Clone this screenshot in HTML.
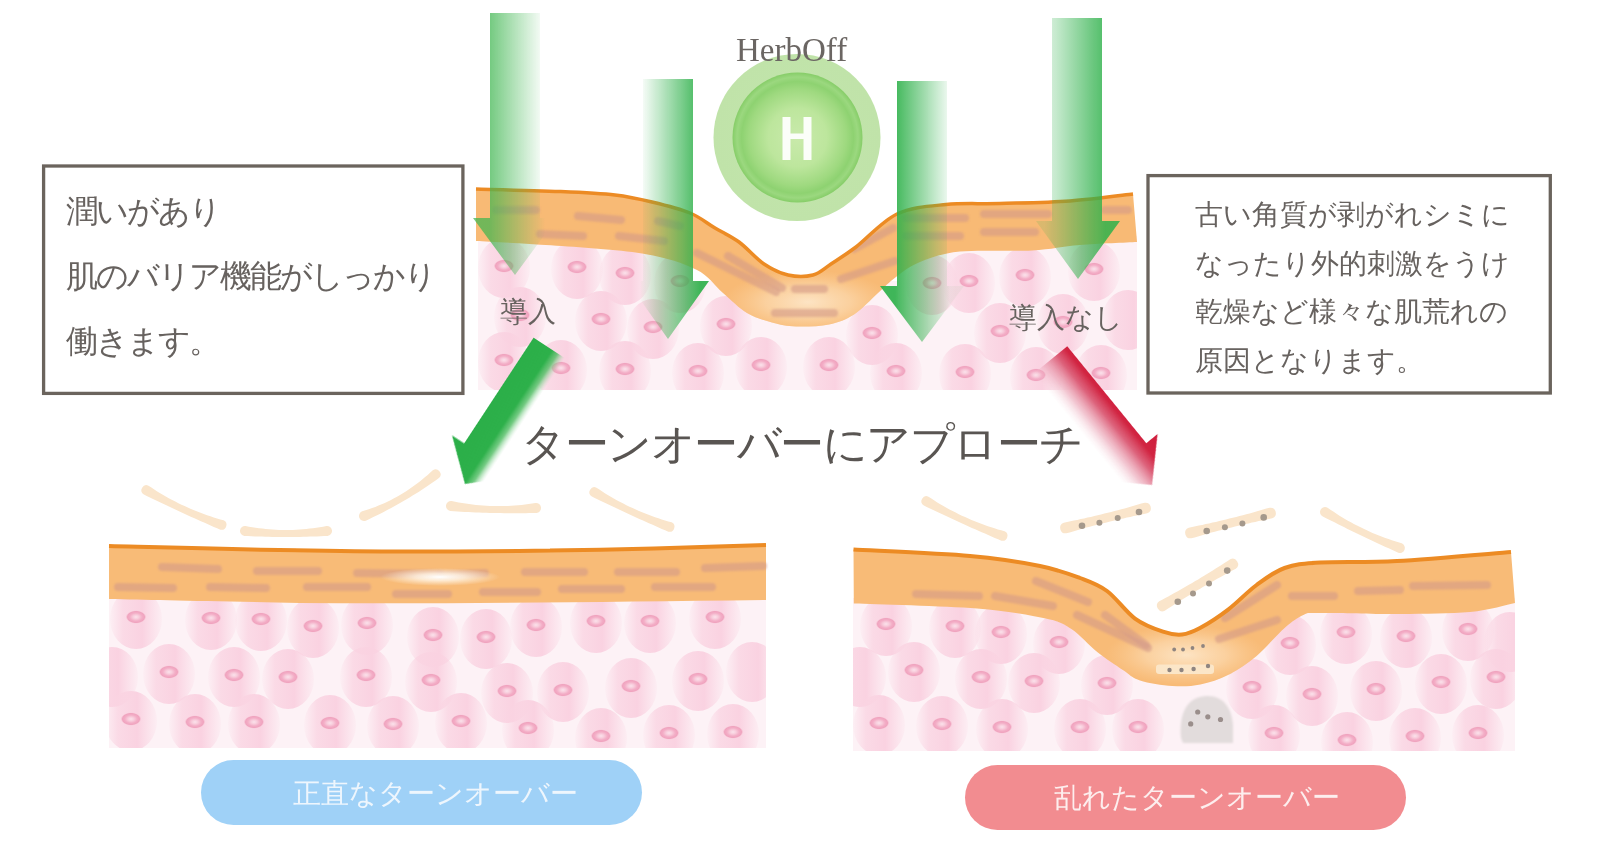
<!DOCTYPE html>
<html><head><meta charset="utf-8"><style>
html,body{margin:0;padding:0;background:#fff;}
body{width:1610px;height:855px;position:relative;overflow:hidden;font-family:"Liberation Sans",sans-serif;}
.t{position:absolute;white-space:nowrap;color:#67625f;line-height:1;}
</style></head><body>
<svg width="1610" height="855" viewBox="0 0 1610 855" style="position:absolute;left:0;top:0">

<defs>
 <linearGradient id="cellg" x1="0" y1="0" x2="1" y2="0">
  <stop offset="0" stop-color="#fad4e2" stop-opacity="0.1"/>
  <stop offset="0.25" stop-color="#fad4e2" stop-opacity="0.8"/>
  <stop offset="0.62" stop-color="#fad2e1" stop-opacity="1"/>
  <stop offset="1" stop-color="#fad4e2" stop-opacity="0.15"/>
 </linearGradient>
 <radialGradient id="nucg" cx="50%" cy="50%" r="50%">
  <stop offset="0" stop-color="#fbe2eb"/>
  <stop offset="0.3" stop-color="#f8cddc"/>
  <stop offset="0.62" stop-color="#f3adc6"/>
  <stop offset="0.85" stop-color="#f0a4bf"/>
  <stop offset="1" stop-color="#f5c0d2" stop-opacity="0.4"/>
 </radialGradient>
 <clipPath id="clipTSorange"><path d="M476,189 C560,191 615,194 652,202 C690,210 720,232 752,252 C775,268 790,276 802,276 C818,276 835,260 857,241 C878,224 900,210 946,205 C1000,203.5 1070,201 1133,194 L1137,242 C1080,245 1030,250 960,251 C925,256 895,282 862,305 C840,320 818,328 797,328 C772,328 750,318 728,299 C708,280 690,265 642,253 C600,247 540,243 476,241 Z"/></clipPath>
 <clipPath id="clipTS"><rect x="478" y="236" width="659" height="154"/></clipPath>
 <clipPath id="clipBL"><rect x="109" y="596" width="657" height="152"/></clipPath>
 <clipPath id="clipBR"><rect x="853" y="598" width="662" height="153"/></clipPath>
 <radialGradient id="cellgray" cx="50%" cy="50%" r="50%">
  <stop offset="0" stop-color="#d9d5d6"/>
  <stop offset="0.75" stop-color="#dcd8d9"/>
  <stop offset="1" stop-color="#e5e0e2" stop-opacity="0"/>
 </radialGradient>
 <radialGradient id="ballOuter" cx="50%" cy="50%" r="50%">
  <stop offset="0" stop-color="#c3e5ad"/>
  <stop offset="1" stop-color="#c0e3a9"/>
 </radialGradient>
 <radialGradient id="ballInner" cx="50%" cy="50%" r="50%">
  <stop offset="0" stop-color="#c9eaab"/>
  <stop offset="0.45" stop-color="#bde69d"/>
  <stop offset="0.75" stop-color="#9ed97f"/>
  <stop offset="0.86" stop-color="#8ed271"/>
  <stop offset="0.93" stop-color="#9bd87f"/>
  <stop offset="1" stop-color="#86cd68"/>
 </radialGradient>
 <linearGradient id="gA1" gradientUnits="userSpaceOnUse" x1="490" y1="0" x2="545" y2="0">
  <stop offset="0" stop-color="#3fb650" stop-opacity="0.72"/>
  <stop offset="1" stop-color="#3fb650" stop-opacity="0.0"/>
 </linearGradient>
 <linearGradient id="gA2" gradientUnits="userSpaceOnUse" x1="640" y1="0" x2="700" y2="0">
  <stop offset="0" stop-color="#2fb14b" stop-opacity="0"/>
  <stop offset="1" stop-color="#2fb14b" stop-opacity="0.92"/>
 </linearGradient>
 <linearGradient id="gA3" gradientUnits="userSpaceOnUse" x1="895" y1="0" x2="950" y2="0">
  <stop offset="0" stop-color="#2fb14b" stop-opacity="0.92"/>
  <stop offset="1" stop-color="#2fb14b" stop-opacity="0.05"/>
 </linearGradient>
 <linearGradient id="gA4" gradientUnits="userSpaceOnUse" x1="1045" y1="0" x2="1105" y2="0">
  <stop offset="0" stop-color="#2fb14b" stop-opacity="0.15"/>
  <stop offset="1" stop-color="#2fb14b" stop-opacity="0.85"/>
 </linearGradient>
 <linearGradient id="gGreen" gradientUnits="userSpaceOnUse" x1="-37.5" y1="0" x2="37.5" y2="0">
  <stop offset="0" stop-color="#2aae48"/>
  <stop offset="0.49" stop-color="#2db04a"/>
  <stop offset="0.58" stop-color="#4fbd62" stop-opacity="0.8"/>
  <stop offset="0.69" stop-color="#a8dfb0" stop-opacity="0"/>
 </linearGradient>
 <linearGradient id="gRed" gradientUnits="userSpaceOnUse" x1="36.5" y1="0" x2="-36.5" y2="0">
  <stop offset="0" stop-color="#cf1d3d"/>
  <stop offset="0.24" stop-color="#d12441"/>
  <stop offset="0.4" stop-color="#d9506c" stop-opacity="0.88"/>
  <stop offset="0.6" stop-color="#e68ea4" stop-opacity="0.5"/>
  <stop offset="0.8" stop-color="#f6d4dd" stop-opacity="0"/>
 </linearGradient>
 <radialGradient id="dipHi" cx="50%" cy="50%" r="50%">
  <stop offset="0" stop-color="#fde6c8" stop-opacity="0.95"/>
  <stop offset="0.5" stop-color="#fcdab0" stop-opacity="0.7"/>
  <stop offset="1" stop-color="#fbd09c" stop-opacity="0"/>
 </radialGradient>
 <radialGradient id="glow" cx="50%" cy="50%" r="50%">
  <stop offset="0" stop-color="#ffffff" stop-opacity="1"/>
  <stop offset="0.4" stop-color="#fff6e8" stop-opacity="0.8"/>
  <stop offset="1" stop-color="#fff6e8" stop-opacity="0"/>
 </radialGradient>
 <filter id="soft" filterUnits="userSpaceOnUse" x="0" y="0" width="1610" height="855"><feGaussianBlur stdDeviation="1.1"/></filter>
</defs>

<rect x="0" y="0" width="1610" height="855" fill="#ffffff"/>
<rect x="478" y="236" width="659" height="154" fill="#fdf2f6"/>
<g clip-path="url(#clipTS)">
<ellipse cx="504" cy="268" rx="26" ry="30" fill="url(#cellg)"/><ellipse cx="504" cy="266" rx="10" ry="6.5" fill="url(#nucg)"/>
<ellipse cx="577" cy="269" rx="26" ry="30" fill="url(#cellg)"/><ellipse cx="577" cy="267" rx="10" ry="6.5" fill="url(#nucg)"/>
<ellipse cx="625" cy="275" rx="26" ry="30" fill="url(#cellg)"/><ellipse cx="625" cy="273" rx="10" ry="6.5" fill="url(#nucg)"/>
<ellipse cx="680" cy="283" rx="26" ry="30" fill="url(#cellg)"/><ellipse cx="680" cy="281" rx="10" ry="6.5" fill="url(#nucg)"/>
<ellipse cx="932" cy="285" rx="26" ry="30" fill="url(#cellg)"/><ellipse cx="932" cy="283" rx="10" ry="6.5" fill="url(#nucg)"/>
<ellipse cx="969" cy="283" rx="26" ry="30" fill="url(#cellg)"/><ellipse cx="969" cy="281" rx="10" ry="6.5" fill="url(#nucg)"/>
<ellipse cx="1025" cy="277" rx="26" ry="30" fill="url(#cellg)"/><ellipse cx="1025" cy="275" rx="10" ry="6.5" fill="url(#nucg)"/>
<ellipse cx="1094" cy="271" rx="26" ry="30" fill="url(#cellg)"/><ellipse cx="1094" cy="269" rx="10" ry="6.5" fill="url(#nucg)"/>
<ellipse cx="601" cy="321" rx="26" ry="30" fill="url(#cellg)"/><ellipse cx="601" cy="319" rx="10" ry="6.5" fill="url(#nucg)"/>
<ellipse cx="653" cy="329" rx="26" ry="30" fill="url(#cellg)"/><ellipse cx="653" cy="327" rx="10" ry="6.5" fill="url(#nucg)"/>
<ellipse cx="726" cy="326" rx="26" ry="30" fill="url(#cellg)"/><ellipse cx="726" cy="324" rx="10" ry="6.5" fill="url(#nucg)"/>
<ellipse cx="872" cy="335" rx="26" ry="30" fill="url(#cellg)"/><ellipse cx="872" cy="333" rx="10" ry="6.5" fill="url(#nucg)"/>
<ellipse cx="1000" cy="333" rx="26" ry="30" fill="url(#cellg)"/><ellipse cx="1000" cy="331" rx="10" ry="6.5" fill="url(#nucg)"/>
<ellipse cx="1063" cy="324" rx="26" ry="30" fill="url(#cellg)"/><ellipse cx="1063" cy="322" rx="10" ry="6.5" fill="url(#nucg)"/>
<ellipse cx="1128" cy="320" rx="26" ry="30" fill="url(#cellg)"/>
<ellipse cx="520" cy="317" rx="26" ry="30" fill="url(#cellg)"/><ellipse cx="520" cy="315" rx="10" ry="6.5" fill="url(#nucg)"/>
<ellipse cx="504" cy="362" rx="26" ry="30" fill="url(#cellg)"/><ellipse cx="504" cy="360" rx="10" ry="6.5" fill="url(#nucg)"/>
<ellipse cx="561" cy="370" rx="26" ry="30" fill="url(#cellg)"/><ellipse cx="561" cy="368" rx="10" ry="6.5" fill="url(#nucg)"/>
<ellipse cx="625" cy="371" rx="26" ry="30" fill="url(#cellg)"/><ellipse cx="625" cy="369" rx="10" ry="6.5" fill="url(#nucg)"/>
<ellipse cx="698" cy="373" rx="26" ry="30" fill="url(#cellg)"/><ellipse cx="698" cy="371" rx="10" ry="6.5" fill="url(#nucg)"/>
<ellipse cx="761" cy="367" rx="26" ry="30" fill="url(#cellg)"/><ellipse cx="761" cy="365" rx="10" ry="6.5" fill="url(#nucg)"/>
<ellipse cx="829" cy="367" rx="26" ry="30" fill="url(#cellg)"/><ellipse cx="829" cy="365" rx="10" ry="6.5" fill="url(#nucg)"/>
<ellipse cx="896" cy="373" rx="26" ry="30" fill="url(#cellg)"/><ellipse cx="896" cy="371" rx="10" ry="6.5" fill="url(#nucg)"/>
<ellipse cx="965" cy="374" rx="26" ry="30" fill="url(#cellg)"/><ellipse cx="965" cy="372" rx="10" ry="6.5" fill="url(#nucg)"/>
<ellipse cx="1036" cy="377" rx="26" ry="30" fill="url(#cellg)"/><ellipse cx="1036" cy="375" rx="10" ry="6.5" fill="url(#nucg)"/>
<ellipse cx="1101" cy="375" rx="26" ry="30" fill="url(#cellg)"/><ellipse cx="1101" cy="373" rx="10" ry="6.5" fill="url(#nucg)"/>
</g>
<rect x="693" y="0" width="204" height="281" fill="#ffffff"/>
<clipPath id="clipTSo2"><path d="M476,189 C490.0,189.4 536.8,190.5 560,191.5 C583.2,192.5 599.7,193.2 615,195 C630.3,196.8 639.5,199.0 652,202 C664.5,205.0 679.5,208.7 690,213 C700.5,217.3 706.8,223.2 715,228 C723.2,232.8 730.8,236.0 739,242 C747.2,248.0 755.8,258.5 764,264 C772.2,269.5 779.8,273.2 788,275 C796.2,276.8 805.8,276.8 813,275 C820.2,273.2 823.8,268.7 831,264 C838.2,259.3 845.0,255.3 856,247 C867.0,238.7 882.0,221.1 897,214 C912.0,206.9 928.8,206.2 946,204.5 C963.2,202.8 979.3,204.1 1000,203.5 C1020.7,202.9 1047.8,202.6 1070,201 C1092.2,199.4 1122.5,195.2 1133,194 L1137,242 C1127.5,242.5 1097.5,243.6 1080,245 C1062.5,246.4 1052.0,249.4 1032,250.5 C1012.0,251.6 978.7,249.6 960,251.5 C941.3,253.4 930.7,257.8 920,262 C909.3,266.2 903.0,271.8 896,277 C889.0,282.2 885.0,286.8 878,293 C871.0,299.2 862.2,309.2 854,314.5 C845.8,319.8 838.7,322.5 829,324.5 C819.3,326.5 805.5,326.8 796,326.5 C786.5,326.2 780.2,324.8 772,322.5 C763.8,320.2 755.2,317.9 747,313 C738.8,308.1 731.5,300.2 723,293 C714.5,285.8 709.5,276.1 696,269.5 C682.5,262.9 666.2,257.5 642,253.5 C617.8,249.5 578.7,247.4 551,245.3 C523.3,243.2 488.5,241.7 476,241 Z"/></clipPath>
<path d="M476,189 C490.0,189.4 536.8,190.5 560,191.5 C583.2,192.5 599.7,193.2 615,195 C630.3,196.8 639.5,199.0 652,202 C664.5,205.0 679.5,208.7 690,213 C700.5,217.3 706.8,223.2 715,228 C723.2,232.8 730.8,236.0 739,242 C747.2,248.0 755.8,258.5 764,264 C772.2,269.5 779.8,273.2 788,275 C796.2,276.8 805.8,276.8 813,275 C820.2,273.2 823.8,268.7 831,264 C838.2,259.3 845.0,255.3 856,247 C867.0,238.7 882.0,221.1 897,214 C912.0,206.9 928.8,206.2 946,204.5 C963.2,202.8 979.3,204.1 1000,203.5 C1020.7,202.9 1047.8,202.6 1070,201 C1092.2,199.4 1122.5,195.2 1133,194 L1137,242 C1127.5,242.5 1097.5,243.6 1080,245 C1062.5,246.4 1052.0,249.4 1032,250.5 C1012.0,251.6 978.7,249.6 960,251.5 C941.3,253.4 930.7,257.8 920,262 C909.3,266.2 903.0,271.8 896,277 C889.0,282.2 885.0,286.8 878,293 C871.0,299.2 862.2,309.2 854,314.5 C845.8,319.8 838.7,322.5 829,324.5 C819.3,326.5 805.5,326.8 796,326.5 C786.5,326.2 780.2,324.8 772,322.5 C763.8,320.2 755.2,317.9 747,313 C738.8,308.1 731.5,300.2 723,293 C714.5,285.8 709.5,276.1 696,269.5 C682.5,262.9 666.2,257.5 642,253.5 C617.8,249.5 578.7,247.4 551,245.3 C523.3,243.2 488.5,241.7 476,241 Z" fill="#f8ba75"/>
<g clip-path="url(#clipTSo2)"><ellipse cx="808" cy="302" rx="85" ry="32" fill="url(#dipHi)"/>
<g filter="url(#soft)">
<line x1="496" y1="210" x2="536" y2="210" stroke="#d49a88" stroke-width="8" stroke-linecap="round" opacity="0.6"/>
<line x1="578" y1="216" x2="621" y2="220" stroke="#d49a88" stroke-width="8" stroke-linecap="round" opacity="0.6"/>
<line x1="540" y1="234" x2="583" y2="236" stroke="#d49a88" stroke-width="8" stroke-linecap="round" opacity="0.6"/>
<line x1="619" y1="236" x2="664" y2="241" stroke="#d49a88" stroke-width="8" stroke-linecap="round" opacity="0.6"/>
<line x1="658" y1="221" x2="680" y2="226" stroke="#d49a88" stroke-width="8" stroke-linecap="round" opacity="0.6"/>
<line x1="697" y1="253" x2="776" y2="292" stroke="#d49a88" stroke-width="8" stroke-linecap="round" opacity="0.6"/>
<line x1="728" y1="256" x2="782" y2="288" stroke="#d49a88" stroke-width="8" stroke-linecap="round" opacity="0.6"/>
<line x1="795" y1="289" x2="824" y2="289" stroke="#d49a88" stroke-width="8" stroke-linecap="round" opacity="0.6"/>
<line x1="775" y1="313" x2="834" y2="313" stroke="#d49a88" stroke-width="8" stroke-linecap="round" opacity="0.6"/>
<line x1="841" y1="279" x2="895" y2="261" stroke="#d49a88" stroke-width="8" stroke-linecap="round" opacity="0.6"/>
<line x1="854" y1="249" x2="893" y2="228" stroke="#d49a88" stroke-width="8" stroke-linecap="round" opacity="0.6"/>
<line x1="906" y1="218" x2="965" y2="218" stroke="#d49a88" stroke-width="8" stroke-linecap="round" opacity="0.6"/>
<line x1="906" y1="236" x2="960" y2="236" stroke="#d49a88" stroke-width="8" stroke-linecap="round" opacity="0.6"/>
<line x1="984" y1="214" x2="1048" y2="214" stroke="#d49a88" stroke-width="8" stroke-linecap="round" opacity="0.6"/>
<line x1="984" y1="232" x2="1035" y2="232" stroke="#d49a88" stroke-width="8" stroke-linecap="round" opacity="0.6"/>
<line x1="1105" y1="210" x2="1128" y2="210" stroke="#d49a88" stroke-width="8" stroke-linecap="round" opacity="0.6"/>
</g></g>
<path d="M476,189 C490.0,189.4 536.8,190.5 560,191.5 C583.2,192.5 599.7,193.2 615,195 C630.3,196.8 639.5,199.0 652,202 C664.5,205.0 679.5,208.7 690,213 C700.5,217.3 706.8,223.2 715,228 C723.2,232.8 730.8,236.0 739,242 C747.2,248.0 755.8,258.5 764,264 C772.2,269.5 779.8,273.2 788,275 C796.2,276.8 805.8,276.8 813,275 C820.2,273.2 823.8,268.7 831,264 C838.2,259.3 845.0,255.3 856,247 C867.0,238.7 882.0,221.1 897,214 C912.0,206.9 928.8,206.2 946,204.5 C963.2,202.8 979.3,204.1 1000,203.5 C1020.7,202.9 1047.8,202.6 1070,201 C1092.2,199.4 1122.5,195.2 1133,194" fill="none" stroke="#ec8b24" stroke-width="3.5"/>
<path d="M490,13 L540,13 L540,218 L557,218 L515,275 L473,218 L490,218 Z" fill="url(#gA1)"/>
<path d="M643,79 L693,79 L693,281 L709,281 L668,339 L627,281 L643,281 Z" fill="url(#gA2)"/>
<path d="M897,81 L947,81 L947,286 L964,286 L922,342 L880,286 L897,286 Z" fill="url(#gA3)"/>
<path d="M1052,18 L1102,18 L1102,221 L1120,221 L1078,279 L1036,221 L1052,221 Z" fill="url(#gA4)"/>
<circle cx="797" cy="137.5" r="83.5" fill="url(#ballOuter)"/>
<circle cx="797.5" cy="137.5" r="65" fill="url(#ballInner)"/>
<path d="M782.5,117 h8 v16.5 h13 v-16.5 h8 v43 h-8 v-21 h-13 v21 h-8 Z" fill="#ffffff" opacity="0.93"/>
<g transform="translate(465,484) rotate(33.29)"><path d="M0,0 L-37.5,-33.5 L-23,-33.5 L-23,-160 L23,-160 L23,-33.5 L37.5,-33.5 Z" fill="url(#gGreen)"/></g>
<g transform="translate(1152,485) rotate(-39.20)"><path d="M0,0 L-36.5,-36 L-22,-36 L-22,-161 L22,-161 L22,-36 L36.5,-36 Z" fill="url(#gRed)"/></g>
<rect x="109" y="596" width="657" height="152" fill="#fdf2f6"/>
<g clip-path="url(#clipBL)">
<ellipse cx="136" cy="619" rx="26" ry="30" fill="url(#cellg)"/><ellipse cx="136" cy="617" rx="10" ry="6.5" fill="url(#nucg)"/>
<ellipse cx="211" cy="620" rx="26" ry="30" fill="url(#cellg)"/><ellipse cx="211" cy="618" rx="10" ry="6.5" fill="url(#nucg)"/>
<ellipse cx="261" cy="621" rx="26" ry="30" fill="url(#cellg)"/><ellipse cx="261" cy="619" rx="10" ry="6.5" fill="url(#nucg)"/>
<ellipse cx="313" cy="628" rx="26" ry="30" fill="url(#cellg)"/><ellipse cx="313" cy="626" rx="10" ry="6.5" fill="url(#nucg)"/>
<ellipse cx="367" cy="625" rx="26" ry="30" fill="url(#cellg)"/><ellipse cx="367" cy="623" rx="10" ry="6.5" fill="url(#nucg)"/>
<ellipse cx="433" cy="637" rx="26" ry="30" fill="url(#cellg)"/><ellipse cx="433" cy="635" rx="10" ry="6.5" fill="url(#nucg)"/>
<ellipse cx="486" cy="639" rx="26" ry="30" fill="url(#cellg)"/><ellipse cx="486" cy="637" rx="10" ry="6.5" fill="url(#nucg)"/>
<ellipse cx="536" cy="627" rx="26" ry="30" fill="url(#cellg)"/><ellipse cx="536" cy="625" rx="10" ry="6.5" fill="url(#nucg)"/>
<ellipse cx="596" cy="623" rx="26" ry="30" fill="url(#cellg)"/><ellipse cx="596" cy="621" rx="10" ry="6.5" fill="url(#nucg)"/>
<ellipse cx="650" cy="623" rx="26" ry="30" fill="url(#cellg)"/><ellipse cx="650" cy="621" rx="10" ry="6.5" fill="url(#nucg)"/>
<ellipse cx="715" cy="619" rx="26" ry="30" fill="url(#cellg)"/><ellipse cx="715" cy="617" rx="10" ry="6.5" fill="url(#nucg)"/>
<ellipse cx="112" cy="677" rx="26" ry="30" fill="url(#cellg)"/>
<ellipse cx="169" cy="674" rx="26" ry="30" fill="url(#cellg)"/><ellipse cx="169" cy="672" rx="10" ry="6.5" fill="url(#nucg)"/>
<ellipse cx="234" cy="677" rx="26" ry="30" fill="url(#cellg)"/><ellipse cx="234" cy="675" rx="10" ry="6.5" fill="url(#nucg)"/>
<ellipse cx="288" cy="679" rx="26" ry="30" fill="url(#cellg)"/><ellipse cx="288" cy="677" rx="10" ry="6.5" fill="url(#nucg)"/>
<ellipse cx="366" cy="677" rx="26" ry="30" fill="url(#cellg)"/><ellipse cx="366" cy="675" rx="10" ry="6.5" fill="url(#nucg)"/>
<ellipse cx="431" cy="682" rx="26" ry="30" fill="url(#cellg)"/><ellipse cx="431" cy="680" rx="10" ry="6.5" fill="url(#nucg)"/>
<ellipse cx="507" cy="693" rx="26" ry="30" fill="url(#cellg)"/><ellipse cx="507" cy="691" rx="10" ry="6.5" fill="url(#nucg)"/>
<ellipse cx="563" cy="692" rx="26" ry="30" fill="url(#cellg)"/><ellipse cx="563" cy="690" rx="10" ry="6.5" fill="url(#nucg)"/>
<ellipse cx="631" cy="688" rx="26" ry="30" fill="url(#cellg)"/><ellipse cx="631" cy="686" rx="10" ry="6.5" fill="url(#nucg)"/>
<ellipse cx="698" cy="681" rx="26" ry="30" fill="url(#cellg)"/><ellipse cx="698" cy="679" rx="10" ry="6.5" fill="url(#nucg)"/>
<ellipse cx="752" cy="672" rx="26" ry="30" fill="url(#cellg)"/>
<ellipse cx="131" cy="721" rx="26" ry="30" fill="url(#cellg)"/><ellipse cx="131" cy="719" rx="10" ry="6.5" fill="url(#nucg)"/>
<ellipse cx="195" cy="724" rx="26" ry="30" fill="url(#cellg)"/><ellipse cx="195" cy="722" rx="10" ry="6.5" fill="url(#nucg)"/>
<ellipse cx="254" cy="724" rx="26" ry="30" fill="url(#cellg)"/><ellipse cx="254" cy="722" rx="10" ry="6.5" fill="url(#nucg)"/>
<ellipse cx="330" cy="725" rx="26" ry="30" fill="url(#cellg)"/><ellipse cx="330" cy="723" rx="10" ry="6.5" fill="url(#nucg)"/>
<ellipse cx="393" cy="726" rx="26" ry="30" fill="url(#cellg)"/><ellipse cx="393" cy="724" rx="10" ry="6.5" fill="url(#nucg)"/>
<ellipse cx="461" cy="723" rx="26" ry="30" fill="url(#cellg)"/><ellipse cx="461" cy="721" rx="10" ry="6.5" fill="url(#nucg)"/>
<ellipse cx="528" cy="730" rx="26" ry="30" fill="url(#cellg)"/><ellipse cx="528" cy="728" rx="10" ry="6.5" fill="url(#nucg)"/>
<ellipse cx="601" cy="738" rx="26" ry="30" fill="url(#cellg)"/><ellipse cx="601" cy="736" rx="10" ry="6.5" fill="url(#nucg)"/>
<ellipse cx="669" cy="735" rx="26" ry="30" fill="url(#cellg)"/><ellipse cx="669" cy="733" rx="10" ry="6.5" fill="url(#nucg)"/>
<ellipse cx="733" cy="734" rx="26" ry="30" fill="url(#cellg)"/><ellipse cx="733" cy="732" rx="10" ry="6.5" fill="url(#nucg)"/>
</g>
<path d="M109,546 C300,551 450,556 766,545 L766,600 C600,602 450,604 300,603 C200,601 150,600 109,599 Z" fill="#f8bb77"/>
<g filter="url(#soft)">
<line x1="162" y1="567" x2="218" y2="569" stroke="#d49a88" stroke-width="8" stroke-linecap="round" opacity="0.6"/>
<line x1="257" y1="571" x2="318" y2="571" stroke="#d49a88" stroke-width="8" stroke-linecap="round" opacity="0.6"/>
<line x1="357" y1="573" x2="440" y2="574" stroke="#d49a88" stroke-width="8" stroke-linecap="round" opacity="0.6"/>
<line x1="440" y1="575" x2="485" y2="573" stroke="#d49a88" stroke-width="8" stroke-linecap="round" opacity="0.6"/>
<line x1="525" y1="572" x2="584" y2="572" stroke="#d49a88" stroke-width="8" stroke-linecap="round" opacity="0.6"/>
<line x1="618" y1="572" x2="676" y2="572" stroke="#d49a88" stroke-width="8" stroke-linecap="round" opacity="0.6"/>
<line x1="705" y1="568" x2="763" y2="566" stroke="#d49a88" stroke-width="8" stroke-linecap="round" opacity="0.6"/>
<line x1="118" y1="587" x2="173" y2="588" stroke="#d49a88" stroke-width="8" stroke-linecap="round" opacity="0.6"/>
<line x1="210" y1="587" x2="266" y2="588" stroke="#d49a88" stroke-width="8" stroke-linecap="round" opacity="0.6"/>
<line x1="307" y1="587" x2="367" y2="587" stroke="#d49a88" stroke-width="8" stroke-linecap="round" opacity="0.6"/>
<line x1="396" y1="594" x2="448" y2="594" stroke="#d49a88" stroke-width="8" stroke-linecap="round" opacity="0.6"/>
<line x1="483" y1="592" x2="537" y2="592" stroke="#d49a88" stroke-width="8" stroke-linecap="round" opacity="0.6"/>
<line x1="562" y1="589" x2="621" y2="589" stroke="#d49a88" stroke-width="8" stroke-linecap="round" opacity="0.6"/>
<line x1="655" y1="587" x2="712" y2="587" stroke="#d49a88" stroke-width="8" stroke-linecap="round" opacity="0.6"/>
</g>
<ellipse cx="440" cy="577" rx="60" ry="9" fill="url(#glow)"/>
<path d="M109,546 C300,551 450,556 766,545" fill="none" stroke="#ec8b24" stroke-width="4"/>
<path d="M143.5,494.3 L146.7,495.9 L149.9,497.4 L153.0,499.0 L156.2,500.5 L159.4,502.0 L162.6,503.6 L165.8,505.1 L169.0,506.6 L172.1,508.1 L175.3,509.5 L178.5,511.0 L181.7,512.5 L184.9,514.0 L188.1,515.4 L191.3,516.9 L194.5,518.3 L197.7,519.8 L200.9,521.2 L204.1,522.6 L207.4,524.1 L210.6,525.5 L213.8,526.9 L217.1,528.3 L220.4,529.7 A5,5 0 0 0 223.6,520.3 L223.6,520.3 L220.3,519.4 L217.0,518.4 L213.7,517.4 L210.4,516.3 L207.1,515.2 L203.8,514.0 L200.6,512.8 L197.3,511.6 L194.1,510.3 L191.0,508.9 L187.8,507.6 L184.6,506.1 L181.5,504.7 L178.4,503.2 L175.3,501.6 L172.2,500.0 L169.2,498.4 L166.2,496.7 L163.2,494.9 L160.2,493.2 L157.2,491.4 L154.3,489.5 L151.4,487.6 L148.5,485.7 A5,5 0 0 0 143.5,494.3 Z" fill="#fae5cb"/>
<path d="M244.4,536.0 L247.9,536.1 L251.4,536.3 L254.9,536.4 L258.3,536.5 L261.8,536.6 L265.3,536.7 L268.7,536.8 L272.2,536.9 L275.6,536.9 L279.1,537.0 L282.5,537.0 L286.0,537.0 L289.5,537.0 L292.9,537.0 L296.4,536.9 L299.8,536.9 L303.3,536.8 L306.7,536.7 L310.2,536.6 L313.7,536.5 L317.1,536.4 L320.6,536.3 L324.1,536.1 L327.6,536.0 A5,5 0 0 0 326.4,526.0 L326.4,526.0 L323.1,526.7 L319.7,527.2 L316.4,527.8 L313.0,528.2 L309.6,528.6 L306.3,529.0 L302.9,529.3 L299.5,529.6 L296.1,529.8 L292.8,529.9 L289.4,530.0 L286.0,530.0 L282.6,530.0 L279.2,529.9 L275.9,529.8 L272.5,529.6 L269.1,529.3 L265.7,529.0 L262.4,528.6 L259.0,528.2 L255.6,527.8 L252.3,527.2 L248.9,526.7 L245.6,526.0 A5,5 0 0 0 244.4,536.0 Z" fill="#fae5cb"/>
<path d="M365.8,520.7 L369.0,519.2 L372.3,517.6 L375.5,516.1 L378.7,514.5 L381.8,512.9 L385.0,511.3 L388.1,509.6 L391.2,508.0 L394.3,506.3 L397.4,504.5 L400.5,502.8 L403.5,501.0 L406.6,499.3 L409.6,497.4 L412.6,495.6 L415.6,493.7 L418.6,491.9 L421.5,489.9 L424.5,488.0 L427.5,486.0 L430.4,484.0 L433.3,482.0 L436.3,479.9 L439.2,477.8 A5,5 0 0 0 432.8,470.2 L432.8,470.2 L430.3,472.5 L427.7,474.9 L425.1,477.1 L422.5,479.3 L419.8,481.5 L417.1,483.6 L414.3,485.6 L411.5,487.6 L408.7,489.6 L405.8,491.4 L402.9,493.2 L400.0,495.0 L397.0,496.7 L394.0,498.3 L391.0,499.9 L387.9,501.4 L384.8,502.9 L381.7,504.3 L378.5,505.6 L375.3,506.9 L372.1,508.1 L368.8,509.2 L365.5,510.3 L362.2,511.3 A5,5 0 0 0 365.8,520.7 Z" fill="#fae5cb"/>
<path d="M450.3,511.0 L453.9,511.2 L457.5,511.4 L461.1,511.7 L464.7,511.9 L468.3,512.1 L471.9,512.2 L475.5,512.4 L479.1,512.5 L482.6,512.7 L486.2,512.8 L489.8,512.9 L493.4,513.0 L496.9,513.1 L500.5,513.1 L504.1,513.2 L507.7,513.2 L511.3,513.2 L514.8,513.2 L518.4,513.2 L522.0,513.2 L525.6,513.2 L529.2,513.1 L532.8,513.1 L536.5,513.0 A5,5 0 0 0 535.5,503.0 L535.5,503.0 L532.1,503.6 L528.6,504.1 L525.1,504.5 L521.6,504.9 L518.1,505.2 L514.6,505.5 L511.1,505.7 L507.6,505.9 L504.0,506.0 L500.5,506.1 L497.0,506.1 L493.5,506.0 L490.0,505.9 L486.5,505.7 L483.0,505.5 L479.5,505.2 L476.0,504.9 L472.5,504.5 L469.0,504.1 L465.6,503.6 L462.1,503.0 L458.6,502.4 L455.2,501.8 L451.7,501.0 A5,5 0 0 0 450.3,511.0 Z" fill="#fae5cb"/>
<path d="M591.5,496.3 L594.7,497.9 L597.9,499.4 L601.0,501.0 L604.2,502.5 L607.4,504.0 L610.6,505.6 L613.8,507.1 L617.0,508.6 L620.1,510.1 L623.3,511.5 L626.5,513.0 L629.7,514.5 L632.9,516.0 L636.1,517.4 L639.3,518.9 L642.5,520.3 L645.7,521.8 L648.9,523.2 L652.1,524.6 L655.4,526.1 L658.6,527.5 L661.8,528.9 L665.1,530.3 L668.4,531.7 A5,5 0 0 0 671.6,522.3 L671.6,522.3 L668.3,521.4 L665.0,520.4 L661.7,519.4 L658.4,518.3 L655.1,517.2 L651.8,516.0 L648.6,514.8 L645.3,513.6 L642.1,512.3 L639.0,510.9 L635.8,509.6 L632.6,508.1 L629.5,506.7 L626.4,505.2 L623.3,503.6 L620.2,502.0 L617.2,500.4 L614.2,498.7 L611.2,496.9 L608.2,495.2 L605.2,493.4 L602.3,491.5 L599.4,489.6 L596.5,487.7 A5,5 0 0 0 591.5,496.3 Z" fill="#fae5cb"/>
<rect x="853" y="598" width="662" height="153" fill="#fdf2f6"/>
<g clip-path="url(#clipBR)">
<ellipse cx="886" cy="626" rx="26" ry="30" fill="url(#cellg)"/><ellipse cx="886" cy="624" rx="10" ry="6.5" fill="url(#nucg)"/>
<ellipse cx="955" cy="628" rx="26" ry="30" fill="url(#cellg)"/><ellipse cx="955" cy="626" rx="10" ry="6.5" fill="url(#nucg)"/>
<ellipse cx="1001" cy="634" rx="26" ry="30" fill="url(#cellg)"/><ellipse cx="1001" cy="632" rx="10" ry="6.5" fill="url(#nucg)"/>
<ellipse cx="1059" cy="644" rx="26" ry="30" fill="url(#cellg)"/><ellipse cx="1059" cy="642" rx="10" ry="6.5" fill="url(#nucg)"/>
<ellipse cx="1290" cy="645" rx="26" ry="30" fill="url(#cellg)"/><ellipse cx="1290" cy="643" rx="10" ry="6.5" fill="url(#nucg)"/>
<ellipse cx="1346" cy="634" rx="26" ry="30" fill="url(#cellg)"/><ellipse cx="1346" cy="632" rx="10" ry="6.5" fill="url(#nucg)"/>
<ellipse cx="1406" cy="638" rx="26" ry="30" fill="url(#cellg)"/><ellipse cx="1406" cy="636" rx="10" ry="6.5" fill="url(#nucg)"/>
<ellipse cx="1468" cy="631" rx="26" ry="30" fill="url(#cellg)"/><ellipse cx="1468" cy="629" rx="10" ry="6.5" fill="url(#nucg)"/>
<ellipse cx="1510" cy="642" rx="26" ry="30" fill="url(#cellg)"/>
<ellipse cx="860" cy="677" rx="26" ry="30" fill="url(#cellg)"/>
<ellipse cx="914" cy="672" rx="26" ry="30" fill="url(#cellg)"/><ellipse cx="914" cy="670" rx="10" ry="6.5" fill="url(#nucg)"/>
<ellipse cx="981" cy="679" rx="26" ry="30" fill="url(#cellg)"/><ellipse cx="981" cy="677" rx="10" ry="6.5" fill="url(#nucg)"/>
<ellipse cx="1034" cy="683" rx="26" ry="30" fill="url(#cellg)"/><ellipse cx="1034" cy="681" rx="10" ry="6.5" fill="url(#nucg)"/>
<ellipse cx="1107" cy="685" rx="26" ry="30" fill="url(#cellg)"/><ellipse cx="1107" cy="683" rx="10" ry="6.5" fill="url(#nucg)"/>
<ellipse cx="1252" cy="689" rx="26" ry="30" fill="url(#cellg)"/><ellipse cx="1252" cy="687" rx="10" ry="6.5" fill="url(#nucg)"/>
<ellipse cx="1312" cy="696" rx="26" ry="30" fill="url(#cellg)"/><ellipse cx="1312" cy="694" rx="10" ry="6.5" fill="url(#nucg)"/>
<ellipse cx="1376" cy="691" rx="26" ry="30" fill="url(#cellg)"/><ellipse cx="1376" cy="689" rx="10" ry="6.5" fill="url(#nucg)"/>
<ellipse cx="1441" cy="684" rx="26" ry="30" fill="url(#cellg)"/><ellipse cx="1441" cy="682" rx="10" ry="6.5" fill="url(#nucg)"/>
<ellipse cx="1496" cy="679" rx="26" ry="30" fill="url(#cellg)"/><ellipse cx="1496" cy="677" rx="10" ry="6.5" fill="url(#nucg)"/>
<ellipse cx="879" cy="725" rx="26" ry="30" fill="url(#cellg)"/><ellipse cx="879" cy="723" rx="10" ry="6.5" fill="url(#nucg)"/>
<ellipse cx="942" cy="726" rx="26" ry="30" fill="url(#cellg)"/><ellipse cx="942" cy="724" rx="10" ry="6.5" fill="url(#nucg)"/>
<ellipse cx="1002" cy="729" rx="26" ry="30" fill="url(#cellg)"/><ellipse cx="1002" cy="727" rx="10" ry="6.5" fill="url(#nucg)"/>
<ellipse cx="1080" cy="729" rx="26" ry="30" fill="url(#cellg)"/><ellipse cx="1080" cy="727" rx="10" ry="6.5" fill="url(#nucg)"/>
<ellipse cx="1138" cy="729" rx="26" ry="30" fill="url(#cellg)"/><ellipse cx="1138" cy="727" rx="10" ry="6.5" fill="url(#nucg)"/>
<ellipse cx="1274" cy="735" rx="26" ry="30" fill="url(#cellg)"/><ellipse cx="1274" cy="733" rx="10" ry="6.5" fill="url(#nucg)"/>
<ellipse cx="1347" cy="742" rx="26" ry="30" fill="url(#cellg)"/><ellipse cx="1347" cy="740" rx="10" ry="6.5" fill="url(#nucg)"/>
<ellipse cx="1415" cy="738" rx="26" ry="30" fill="url(#cellg)"/><ellipse cx="1415" cy="736" rx="10" ry="6.5" fill="url(#nucg)"/>
<ellipse cx="1478" cy="735" rx="26" ry="30" fill="url(#cellg)"/><ellipse cx="1478" cy="733" rx="10" ry="6.5" fill="url(#nucg)"/>
</g>
<path d="M1181,738 C1179,715 1186,697 1206,696 C1223,695 1232,708 1233,725 L1233,743 L1183,743 Z" fill="#e2dcdc" filter="url(#soft)"/>
<circle cx="1197.7" cy="712" r="2.6" fill="#9a8e8b"/>
<circle cx="1207.8" cy="716.8" r="2.6" fill="#9a8e8b"/>
<circle cx="1220.5" cy="719.5" r="2.6" fill="#9a8e8b"/>
<circle cx="1190.7" cy="723.9" r="2.6" fill="#9a8e8b"/>
<path d="M853.5,549.6 C872.9,550.7 938.9,553.3 970,556 C1001.1,558.7 1021.7,562.3 1040,566 C1058.3,569.7 1068.8,573.8 1080,578 C1091.2,582.2 1097.8,584.2 1107,591 C1116.2,597.8 1125.7,611.8 1135,618.6 C1144.3,625.4 1155.2,629.1 1163,631.7 C1170.8,634.4 1175.8,635.1 1182,634.5 C1188.2,633.9 1192.2,632.2 1200,628 C1207.8,623.8 1219.1,616.5 1228.5,609.3 C1237.9,602.1 1247.2,591.9 1256.6,585 C1265.9,578.1 1274.0,571.8 1284.6,568 C1295.2,564.2 1301.3,563.7 1320,562.5 C1338.7,561.3 1365.2,562.8 1397,561 C1428.8,559.2 1492.0,553.5 1511,552 L1511,540 L853,540 Z" fill="#ffffff"/>
<path d="M853.5,549.6 C872.9,550.7 938.9,553.3 970,556 C1001.1,558.7 1021.7,562.3 1040,566 C1058.3,569.7 1068.8,573.8 1080,578 C1091.2,582.2 1097.8,584.2 1107,591 C1116.2,597.8 1125.7,611.8 1135,618.6 C1144.3,625.4 1155.2,629.1 1163,631.7 C1170.8,634.4 1175.8,635.1 1182,634.5 C1188.2,633.9 1192.2,632.2 1200,628 C1207.8,623.8 1219.1,616.5 1228.5,609.3 C1237.9,602.1 1247.2,591.9 1256.6,585 C1265.9,578.1 1274.0,571.8 1284.6,568 C1295.2,564.2 1301.3,563.7 1320,562.5 C1338.7,561.3 1365.2,562.8 1397,561 C1428.8,559.2 1492.0,553.5 1511,552 L1515,603 C1507.5,604.5 1489.2,610.2 1470,612 C1450.8,613.8 1425.0,613.8 1400,614 C1375.0,614.2 1336.1,612.8 1320,613 C1303.9,613.2 1309.3,612.5 1303.4,615 C1297.5,617.5 1292.4,621.2 1284.6,628 C1276.8,634.8 1265.9,648.2 1256.6,656 C1247.2,663.8 1237.9,670.0 1228.5,674.8 C1219.1,679.5 1209.8,682.6 1200.4,684.5 C1191.0,686.4 1182.4,686.7 1172.3,686 C1162.2,685.3 1148.2,683.2 1140,680.5 C1131.8,677.8 1130.0,674.8 1122.9,670 C1115.8,665.2 1105.8,658.8 1097.2,652 C1088.6,645.2 1080.0,634.6 1071.4,629 C1062.8,623.4 1061.4,622.0 1045.7,618.6 C1030.0,615.2 1009.0,611.0 977,608.5 C945.0,606.0 874.3,604.3 853.8,603.5 Z" fill="#f8bb77"/>
<clipPath id="clipBRorange"><path d="M853.5,549.6 C872.9,550.7 938.9,553.3 970,556 C1001.1,558.7 1021.7,562.3 1040,566 C1058.3,569.7 1068.8,573.8 1080,578 C1091.2,582.2 1097.8,584.2 1107,591 C1116.2,597.8 1125.7,611.8 1135,618.6 C1144.3,625.4 1155.2,629.1 1163,631.7 C1170.8,634.4 1175.8,635.1 1182,634.5 C1188.2,633.9 1192.2,632.2 1200,628 C1207.8,623.8 1219.1,616.5 1228.5,609.3 C1237.9,602.1 1247.2,591.9 1256.6,585 C1265.9,578.1 1274.0,571.8 1284.6,568 C1295.2,564.2 1301.3,563.7 1320,562.5 C1338.7,561.3 1365.2,562.8 1397,561 C1428.8,559.2 1492.0,553.5 1511,552 L1515,603 C1507.5,604.5 1489.2,610.2 1470,612 C1450.8,613.8 1425.0,613.8 1400,614 C1375.0,614.2 1336.1,612.8 1320,613 C1303.9,613.2 1309.3,612.5 1303.4,615 C1297.5,617.5 1292.4,621.2 1284.6,628 C1276.8,634.8 1265.9,648.2 1256.6,656 C1247.2,663.8 1237.9,670.0 1228.5,674.8 C1219.1,679.5 1209.8,682.6 1200.4,684.5 C1191.0,686.4 1182.4,686.7 1172.3,686 C1162.2,685.3 1148.2,683.2 1140,680.5 C1131.8,677.8 1130.0,674.8 1122.9,670 C1115.8,665.2 1105.8,658.8 1097.2,652 C1088.6,645.2 1080.0,634.6 1071.4,629 C1062.8,623.4 1061.4,622.0 1045.7,618.6 C1030.0,615.2 1009.0,611.0 977,608.5 C945.0,606.0 874.3,604.3 853.8,603.5 Z"/></clipPath>
<g clip-path="url(#clipBRorange)"><ellipse cx="1186" cy="655" rx="80" ry="30" fill="url(#dipHi)"/>
<g filter="url(#soft)">
<line x1="916" y1="594" x2="979" y2="596" stroke="#d49a88" stroke-width="8" stroke-linecap="round" opacity="0.6"/>
<line x1="995" y1="596" x2="1053" y2="606" stroke="#d49a88" stroke-width="8" stroke-linecap="round" opacity="0.6"/>
<line x1="1036" y1="581" x2="1088" y2="602" stroke="#d49a88" stroke-width="8" stroke-linecap="round" opacity="0.6"/>
<line x1="1077" y1="615" x2="1148" y2="648" stroke="#d49a88" stroke-width="8" stroke-linecap="round" opacity="0.6"/>
<line x1="1105" y1="615" x2="1146" y2="645" stroke="#d49a88" stroke-width="8" stroke-linecap="round" opacity="0.6"/>
<line x1="1219" y1="639" x2="1277" y2="620" stroke="#d49a88" stroke-width="8" stroke-linecap="round" opacity="0.6"/>
<line x1="1225" y1="618" x2="1277" y2="585" stroke="#d49a88" stroke-width="8" stroke-linecap="round" opacity="0.6"/>
<line x1="1292" y1="596" x2="1334" y2="596" stroke="#d49a88" stroke-width="8" stroke-linecap="round" opacity="0.6"/>
<line x1="1358" y1="591" x2="1400" y2="590" stroke="#d49a88" stroke-width="8" stroke-linecap="round" opacity="0.6"/>
<line x1="1413" y1="586" x2="1487" y2="585" stroke="#d49a88" stroke-width="8" stroke-linecap="round" opacity="0.6"/>
</g></g>
<rect x="1156" y="664.5" width="58" height="9.5" rx="3" fill="#fbe6c8"/>
<circle cx="1169.5" cy="670" r="2.2" fill="#8f8580"/>
<circle cx="1181.5" cy="670" r="2.2" fill="#8f8580"/>
<circle cx="1193.6" cy="669" r="2.2" fill="#8f8580"/>
<circle cx="1208" cy="666" r="2.2" fill="#8f8580"/>
<circle cx="1174.2" cy="649.5" r="1.9" fill="#8f8580"/>
<circle cx="1183" cy="649.5" r="1.9" fill="#8f8580"/>
<circle cx="1192.5" cy="648" r="1.9" fill="#8f8580"/>
<circle cx="1203" cy="646" r="1.9" fill="#8f8580"/>
<path d="M853.5,549.6 C872.9,550.7 938.9,553.3 970,556 C1001.1,558.7 1021.7,562.3 1040,566 C1058.3,569.7 1068.8,573.8 1080,578 C1091.2,582.2 1097.8,584.2 1107,591 C1116.2,597.8 1125.7,611.8 1135,618.6 C1144.3,625.4 1155.2,629.1 1163,631.7 C1170.8,634.4 1175.8,635.1 1182,634.5 C1188.2,633.9 1192.2,632.2 1200,628 C1207.8,623.8 1219.1,616.5 1228.5,609.3 C1237.9,602.1 1247.2,591.9 1256.6,585 C1265.9,578.1 1274.0,571.8 1284.6,568 C1295.2,564.2 1301.3,563.7 1320,562.5 C1338.7,561.3 1365.2,562.8 1397,561 C1428.8,559.2 1492.0,553.5 1511,552" fill="none" stroke="#ec8b24" stroke-width="4"/>
<path d="M923.5,505.3 L926.7,506.9 L930.0,508.4 L933.2,510.0 L936.4,511.5 L939.6,513.0 L942.9,514.6 L946.1,516.1 L949.3,517.6 L952.5,519.1 L955.8,520.6 L959.0,522.0 L962.2,523.5 L965.5,525.0 L968.7,526.4 L971.9,527.9 L975.2,529.3 L978.4,530.8 L981.7,532.2 L985.0,533.6 L988.2,535.1 L991.5,536.5 L994.8,537.9 L998.1,539.3 L1001.4,540.7 A5,5 0 0 0 1004.6,531.3 L1004.6,531.3 L1001.2,530.3 L997.9,529.4 L994.5,528.3 L991.2,527.3 L987.9,526.2 L984.6,525.0 L981.3,523.8 L978.0,522.6 L974.8,521.3 L971.5,519.9 L968.3,518.6 L965.1,517.1 L961.9,515.7 L958.8,514.2 L955.7,512.6 L952.6,511.0 L949.5,509.4 L946.4,507.7 L943.4,505.9 L940.3,504.2 L937.3,502.4 L934.4,500.5 L931.4,498.6 L928.5,496.7 A5,5 0 0 0 923.5,505.3 Z" fill="#fae5cb"/>
<path d="M1322.4,516.3 L1325.6,517.9 L1328.7,519.5 L1331.8,521.1 L1335.0,522.6 L1338.1,524.2 L1341.3,525.8 L1344.4,527.3 L1347.5,528.9 L1350.7,530.4 L1353.8,531.9 L1357.0,533.4 L1360.1,535.0 L1363.3,536.5 L1366.4,538.0 L1369.6,539.5 L1372.8,541.0 L1375.9,542.4 L1379.1,543.9 L1382.3,545.4 L1385.5,546.9 L1388.7,548.3 L1391.9,549.8 L1395.1,551.2 L1398.3,552.7 A5,5 0 0 0 1401.7,543.3 L1401.7,543.3 L1398.4,542.3 L1395.1,541.3 L1391.8,540.2 L1388.6,539.1 L1385.3,538.0 L1382.1,536.8 L1378.9,535.5 L1375.7,534.2 L1372.5,532.9 L1369.4,531.5 L1366.3,530.1 L1363.1,528.6 L1360.1,527.1 L1357.0,525.6 L1353.9,524.0 L1350.9,522.3 L1347.9,520.7 L1344.9,518.9 L1342.0,517.2 L1339.1,515.4 L1336.2,513.5 L1333.3,511.6 L1330.4,509.7 L1327.6,507.7 A5,5 0 0 0 1322.4,516.3 Z" fill="#fae5cb"/>
<path d="M1066.3,533.3 L1069.7,532.4 L1073.0,531.4 L1076.3,530.4 L1079.7,529.5 L1083.0,528.5 L1086.4,527.6 L1089.7,526.7 L1093.1,525.8 L1096.5,524.9 L1099.8,524.1 L1103.2,523.2 L1106.6,522.4 L1110.0,521.5 L1113.3,520.7 L1116.7,519.9 L1120.1,519.1 L1123.5,518.4 L1126.9,517.6 L1130.3,516.9 L1133.7,516.1 L1137.1,515.4 L1140.5,514.7 L1143.9,514.0 L1147.3,513.3 A5.5,5.5 0 0 0 1144.7,502.7 L1144.7,502.7 L1141.3,503.6 L1138.0,504.6 L1134.7,505.6 L1131.3,506.5 L1128.0,507.5 L1124.6,508.4 L1121.3,509.3 L1117.9,510.2 L1114.5,511.1 L1111.2,511.9 L1107.8,512.8 L1104.4,513.6 L1101.0,514.5 L1097.7,515.3 L1094.3,516.1 L1090.9,516.9 L1087.5,517.6 L1084.1,518.4 L1080.7,519.1 L1077.3,519.9 L1073.9,520.6 L1070.5,521.3 L1067.1,522.0 L1063.7,522.7 A5.5,5.5 0 0 0 1066.3,533.3 Z" fill="#fae5cb"/>
<circle cx="1082" cy="525.7" r="3.3" fill="#a5998c"/>
<circle cx="1099.4" cy="522.7" r="3" fill="#a5998c"/>
<circle cx="1117.7" cy="518.1" r="3" fill="#a5998c"/>
<circle cx="1139" cy="512" r="3.3" fill="#a5998c"/>
<path d="M1191.3,538.3 L1194.7,537.4 L1198.0,536.4 L1201.3,535.4 L1204.7,534.5 L1208.0,533.5 L1211.4,532.6 L1214.7,531.7 L1218.1,530.8 L1221.5,529.9 L1224.8,529.1 L1228.2,528.2 L1231.6,527.4 L1235.0,526.5 L1238.3,525.7 L1241.7,524.9 L1245.1,524.1 L1248.5,523.4 L1251.9,522.6 L1255.3,521.9 L1258.7,521.1 L1262.1,520.4 L1265.5,519.7 L1268.9,519.0 L1272.3,518.3 A5.5,5.5 0 0 0 1269.7,507.7 L1269.7,507.7 L1266.3,508.6 L1263.0,509.6 L1259.7,510.6 L1256.3,511.5 L1253.0,512.5 L1249.6,513.4 L1246.3,514.3 L1242.9,515.2 L1239.5,516.1 L1236.2,516.9 L1232.8,517.8 L1229.4,518.6 L1226.0,519.5 L1222.7,520.3 L1219.3,521.1 L1215.9,521.9 L1212.5,522.6 L1209.1,523.4 L1205.7,524.1 L1202.3,524.9 L1198.9,525.6 L1195.5,526.3 L1192.1,527.0 L1188.7,527.7 A5.5,5.5 0 0 0 1191.3,538.3 Z" fill="#fae5cb"/>
<circle cx="1206.7" cy="531" r="3.3" fill="#a5998c"/>
<circle cx="1224.9" cy="527.3" r="3" fill="#a5998c"/>
<circle cx="1242.4" cy="523.5" r="3" fill="#a5998c"/>
<circle cx="1263.7" cy="517.4" r="3.3" fill="#a5998c"/>
<path d="M1164.8,610.7 L1167.7,608.8 L1170.6,607.0 L1173.5,605.1 L1176.4,603.3 L1179.3,601.4 L1182.2,599.6 L1185.1,597.8 L1188.0,596.0 L1190.9,594.2 L1193.9,592.4 L1196.8,590.6 L1199.8,588.9 L1202.8,587.1 L1205.7,585.4 L1208.7,583.7 L1211.7,582.0 L1214.7,580.3 L1217.7,578.6 L1220.7,576.9 L1223.7,575.3 L1226.7,573.6 L1229.7,572.0 L1232.8,570.3 L1235.8,568.7 A5.5,5.5 0 0 0 1230.2,559.3 L1230.2,559.3 L1227.3,561.2 L1224.4,563.0 L1221.5,564.9 L1218.6,566.7 L1215.7,568.6 L1212.8,570.4 L1209.9,572.2 L1207.0,574.0 L1204.1,575.8 L1201.1,577.6 L1198.2,579.4 L1195.2,581.1 L1192.2,582.9 L1189.3,584.6 L1186.3,586.3 L1183.3,588.0 L1180.3,589.7 L1177.3,591.4 L1174.3,593.1 L1171.3,594.7 L1168.3,596.4 L1165.3,598.0 L1162.2,599.7 L1159.2,601.3 A5.5,5.5 0 0 0 1164.8,610.7 Z" fill="#fae5cb"/>
<circle cx="1177.8" cy="601.8" r="3.3" fill="#a5998c"/>
<circle cx="1193" cy="593.4" r="3" fill="#a5998c"/>
<circle cx="1209" cy="583.5" r="3" fill="#a5998c"/>
<circle cx="1227.2" cy="570.6" r="3.3" fill="#a5998c"/>
<rect x="201" y="760" width="441" height="65" rx="32.5" fill="#9fd1f7"/>
<rect x="965" y="765" width="441" height="65" rx="32.5" fill="#f28c90"/>
<rect x="43.6" y="166" width="419.3" height="227.4" fill="none" stroke="#6b645d" stroke-width="3.3"/>
<rect x="1148" y="175.6" width="402.3" height="217.4" fill="none" stroke="#6b645d" stroke-width="3.3"/>
</svg>
<div class="t" style="left:736px;top:34px;font-family:'Liberation Serif',serif;font-size:33px;color:#6b6663;">HerbOff</div>
<div class="t" style="left:66px;top:179px;font-size:32px;line-height:65px;letter-spacing:-2px;">潤いがあり<br>肌のバリア機能がしっかり<br>働きます。</div>
<div class="t" style="left:1195px;top:191px;font-size:27.5px;line-height:48.5px;">古い角質が剥がれシミに<br>なったり外的刺激をうけ<br>乾燥など様々な肌荒れの<br>原因となります。</div>
<div class="t" style="left:500px;top:298px;font-size:28px;">導入</div>
<div class="t" style="left:1009px;top:304px;font-size:28px;">導入なし</div>
<div class="t" style="left:521px;top:422px;font-size:44px;letter-spacing:-1.5px;color:#595552;">ターンオーバーにアプローチ</div>
<div class="t" style="left:293px;top:780px;font-size:28px;color:#eef6fd;">正直なターンオーバー</div>
<div class="t" style="left:1054px;top:784px;font-size:28px;color:#fdeeee;">乱れたターンオーバー</div>
</body></html>
